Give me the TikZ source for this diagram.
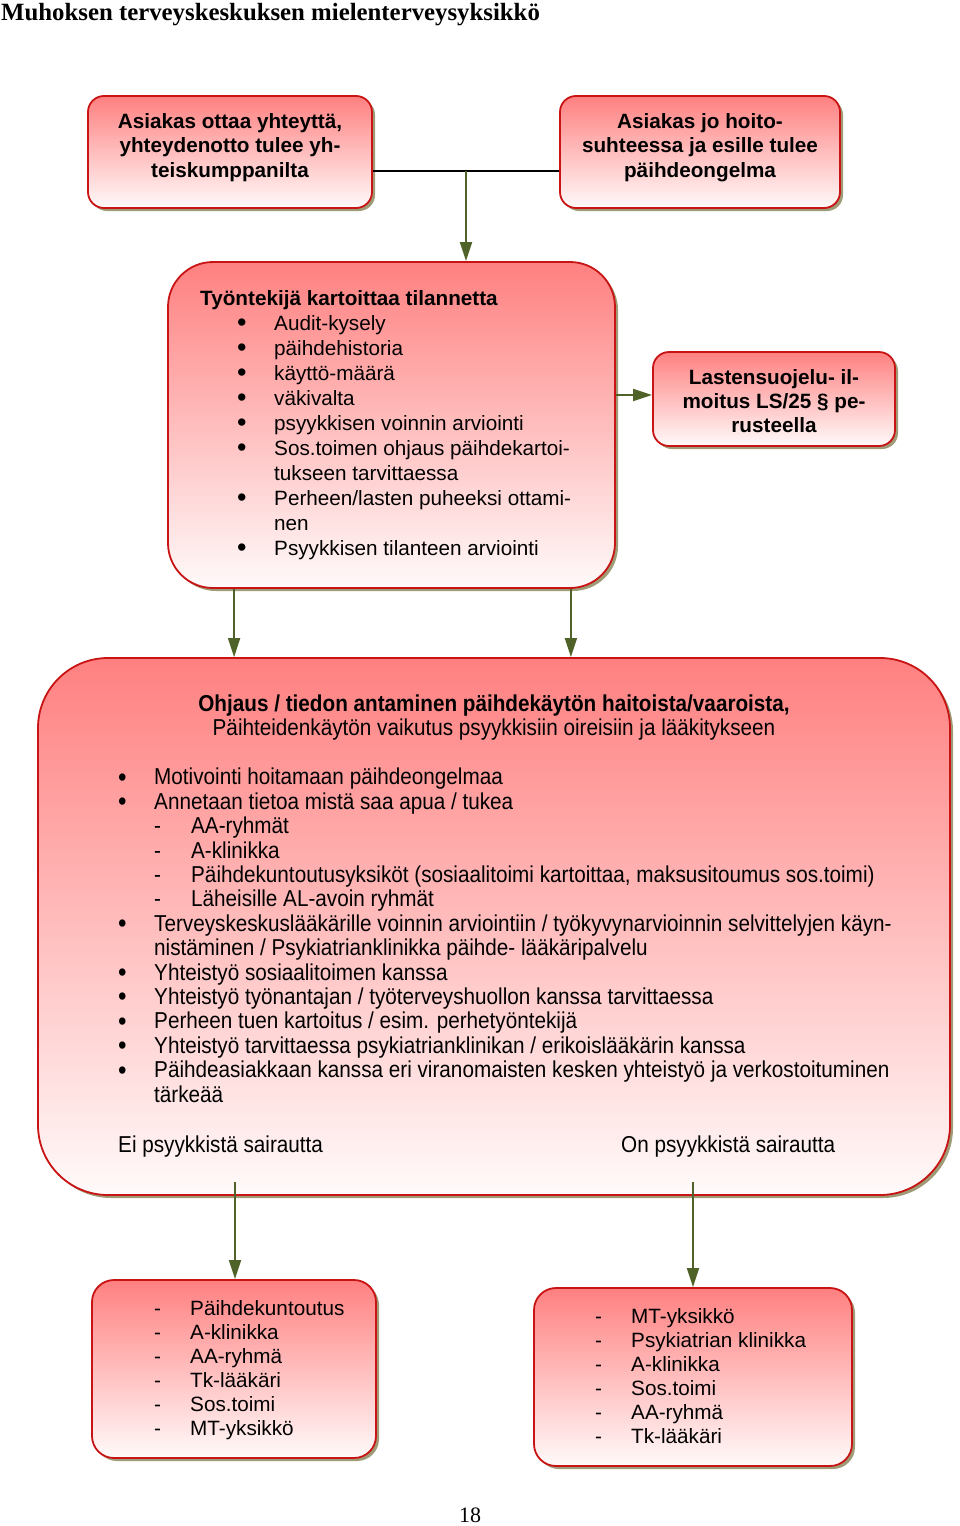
\documentclass[tikz,border=0pt]{standalone}
\usepackage{fontspec}
\setmainfont{Liberation Sans}
\newfontfamily\otsikkofont{Liberation Serif}
\newfontfamily\kapeafont{Liberation Sans}[FakeStretch=0.9]
\usetikzlibrary{shadows,arrows.meta}
\definecolor{reuna}{RGB}{200,20,20}
\definecolor{ylavari}{RGB}{255,128,128}
\definecolor{alavari}{RGB}{255,250,250}
\definecolor{varjo}{RGB}{158,155,118}
\definecolor{nuolivari}{RGB}{79,98,40}
\newcommand{\isopallo}{\raisebox{-1.5pt}{\fontsize{27}{27}\selectfont\textbullet}}
\newcommand{\pallo}{\hspace*{37pt}\makebox[37pt][l]{\isopallo}}
\newcommand{\epallo}{\makebox[36pt][l]{\isopallo}}
\newcommand{\eviiva}{\hspace*{36pt}\makebox[37pt][l]{-}}
\newcommand{\viiva}{\makebox[36pt][l]{-}}

\begin{document}
\begin{tikzpicture}[x=1pt,y=-1pt,
  laatikko/.style={draw=reuna,line width=1.8pt,top color=ylavari,bottom color=alavari,
    drop shadow={shadow xshift=3pt,shadow yshift=-3pt,fill=varjo,opacity=1},inner sep=0pt},
  teksti/.style={inner sep=0pt,font=\fontsize{20.7}{25}\selectfont},
  lihava/.style={inner sep=0pt,font=\fontsize{20.7}{24.5}\selectfont\bfseries},
  nuoli/.style={draw=nuolivari,line width=1.8pt,-{Triangle[length=19pt,width=12pt]}}]
\useasboundingbox (0,0) rectangle (960,1526);
\node[anchor=base west,inner sep=0pt,font=\otsikkofont\bfseries\fontsize{24.8}{27}\selectfont] (otsikko) at (1,20) {Muhoksen terveyskeskuksen mielenterveysyksikkö};

\node[laatikko,rounded corners=16pt,minimum width=284pt,minimum height=112pt] (yhteys) at (230,152) {};
\node[laatikko,rounded corners=16pt,minimum width=280pt,minimum height=112pt] (hoito) at (700,152) {};
\node[lihava,anchor=base,align=center] (yhteysteksti) at (230,177) {Asiakas ottaa yhteyttä,\\yhteydenotto tulee yh-\\teiskumppanilta};
\node[lihava,anchor=base,align=center] (hoitoteksti) at (700,177) {Asiakas jo hoito-\\suhteessa ja esille tulee\\päihdeongelma};

\node[laatikko,rounded corners=45pt,minimum width=447pt,minimum height=326pt] (kartoitus) at (391.5,425) {};
\node[teksti,anchor=base west,align=left] (kartoitusteksti) at (200,555) {\textbf{Työntekijä kartoittaa tilannetta}\\
  \pallo Audit-kysely\\
  \pallo päihdehistoria\\
  \pallo käyttö-määrä\\
  \pallo väkivalta\\
  \pallo psyykkisen voinnin arviointi\\
  \pallo Sos.toimen ohjaus päihdekartoi-\\
  \hspace*{74pt}tukseen tarvittaessa\\
  \pallo Perheen/lasten puheeksi ottami-\\
  \hspace*{74pt}nen\\
  \pallo Psyykkisen tilanteen arviointi};

\node[laatikko,rounded corners=16pt,minimum width=242pt,minimum height=94pt] (lasu) at (774,399) {};
\node[lihava,anchor=base,align=center,font=\fontsize{20.7}{24}\selectfont\bfseries] (lasuteksti) at (774,432) {Lastensuojelu- il-\\moitus LS/25 § pe-\\rusteella};

\node[laatikko,rounded corners=70pt,minimum width=912pt,minimum height=537pt] (ohjaus) at (494,926.5) {};
\node[inner sep=0pt,anchor=base,align=center,font=\kapeafont\fontsize{23}{23.5}\selectfont] (ohjausotsikko) at (494,735) {\textbf{Ohjaus / tiedon antaminen päihdekäytön haitoista/vaaroista,}\\Päihteidenkäytön vaikutus psyykkisiin oireisiin ja lääkitykseen};
\node[inner sep=0pt,anchor=base west,align=left,font=\kapeafont\fontsize{23}{24.4}\selectfont] (ohjauslista) at (118,1102) {\epallo Motivointi hoitamaan päihdeongelmaa\\
  \epallo Annetaan tietoa mistä saa apua / tukea\\
  \eviiva AA-ryhmät\\
  \eviiva A-klinikka\\
  \eviiva Päihdekuntoutusyksiköt (sosiaalitoimi kartoittaa, maksusitoumus sos.toimi)\\
  \eviiva Läheisille AL-avoin ryhmät\\
  \epallo Terveyskeskuslääkärille voinnin arviointiin / työkyvynarvioinnin selvittelyjen käyn-\\
  \hspace*{36pt}nistäminen / Psykiatrianklinikka päihde- lääkäripalvelu\\
  \epallo Yhteistyö sosiaalitoimen kanssa\\
  \epallo Yhteistyö työnantajan / työterveyshuollon kanssa tarvittaessa\\
  \epallo Perheen tuen kartoitus / esim. perhetyöntekijä\\
  \epallo Yhteistyö tarvittaessa psykiatrianklinikan / erikoislääkärin kanssa\\
  \epallo Päihdeasiakkaan kanssa eri viranomaisten kesken yhteistyö ja verkostoituminen\\
  \hspace*{36pt}tärkeää};
\node[inner sep=0pt,anchor=base west,font=\kapeafont\fontsize{23}{24.4}\selectfont] (ei) at (118,1152) {Ei psyykkistä sairautta};
\node[inner sep=0pt,anchor=base west,font=\kapeafont\fontsize{23}{24.4}\selectfont] (on) at (621,1152) {On psyykkistä sairautta};

\node[laatikko,rounded corners=22pt,minimum width=284pt,minimum height=178pt] (eipsy) at (234,1369) {};
\node[laatikko,rounded corners=22pt,minimum width=318pt,minimum height=178pt] (onpsy) at (693,1377) {};
\node[teksti,anchor=base west,align=left,font=\fontsize{20.7}{24}\selectfont] (eipsylista) at (154,1435) {\viiva Päihdekuntoutus\\\viiva A-klinikka\\\viiva AA-ryhmä\\\viiva Tk-lääkäri\\\viiva Sos.toimi\\\viiva MT-yksikkö};
\node[teksti,anchor=base west,align=left,font=\fontsize{20.7}{24}\selectfont] (onpsylista) at (595,1443) {\viiva MT-yksikkö\\\viiva Psykiatrian klinikka\\\viiva A-klinikka\\\viiva Sos.toimi\\\viiva AA-ryhmä\\\viiva Tk-lääkäri};

\node[anchor=base,inner sep=0pt,font=\otsikkofont\fontsize{22}{24}\selectfont] (sivu) at (470,1522) {18};

\coordinate (haara) at (466,171);
\draw[line width=1.8pt] ([yshift=-19pt]yhteys.east) -- ([yshift=-19pt]hoito.west);
\draw[nuoli] (haara) -- (haara |- kartoitus.north);
\draw[nuoli] ([yshift=30pt]kartoitus.east) -- ([yshift=4pt]lasu.west);
\coordinate (vasenalku) at ([xshift=67pt]kartoitus.south west);
\coordinate (oikeaalku) at ([xshift=-45pt]kartoitus.south east);
\draw[nuoli] (vasenalku) -- (vasenalku |- ohjaus.north);
\draw[nuoli] (oikeaalku) -- (oikeaalku |- ohjaus.north);
\coordinate (eialku) at (235,1182);
\coordinate (onalku) at (693,1182);
\draw[nuoli] (eialku) -- (eialku |- eipsy.north);
\draw[nuoli] (onalku) -- (onalku |- onpsy.north);
\end{tikzpicture}
\end{document}
